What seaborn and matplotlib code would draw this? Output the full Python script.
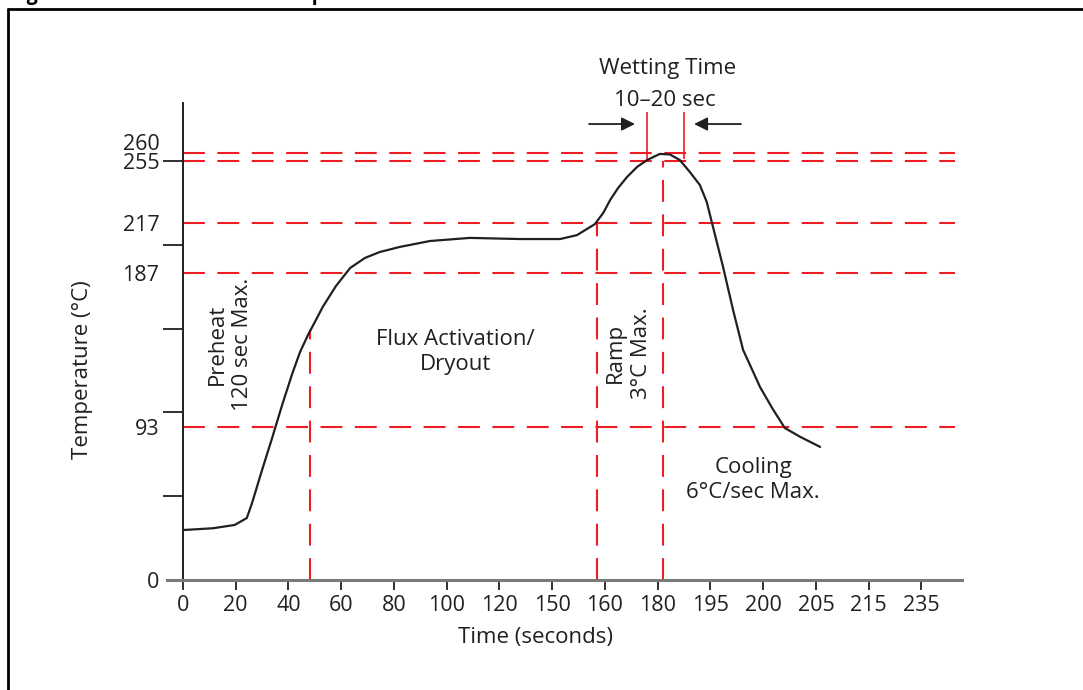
import matplotlib
matplotlib.use("Agg")
import matplotlib.pyplot as plt
from matplotlib.lines import Line2D
from matplotlib.transforms import ScaledTranslation
import seaborn as sns

# ── data (x in tick-slot units, y in °C) ──────────────────────────────────
x_tick_labels = ["0", "20", "40", "60", "80", "100", "120", "150",
                 "160", "180", "195", "200", "205", "215", "235"]
y_label_values = [0, 93, 187, 217, 255, 260]
y_tick_marks = [51, 102, 153, 204, 255]

curve_x = [0.00, 0.57, 0.98, 1.21, 1.31, 1.50, 1.69, 1.88, 2.07, 2.22,
           2.37, 2.52, 2.65, 2.90, 3.17, 3.45, 3.73, 4.11, 4.68, 5.44,
           6.39, 7.15, 7.47, 7.81, 7.97, 8.10, 8.25, 8.42, 8.61, 8.80,
           9.04, 9.23, 9.42, 9.61, 9.80, 9.93, 10.03, 10.24, 10.43, 10.62,
           10.75, 10.94, 11.17, 11.41, 11.71, 12.08]
curve_temp = [30.4, 31.5, 33.5, 37.7, 46.9, 67.0, 86.4, 106.5, 125.4, 138.8,
              149.1, 158.2, 166.2, 178.9, 189.9, 196.0, 199.6, 202.7, 206.3, 208.2,
              207.5, 207.5, 209.9, 216.6, 223.5, 231.3, 238.6, 245.3, 251.4, 255.6,
              259.3, 259.0, 255.6, 248.3, 240.4, 230.1, 217.3, 190.5, 164.3, 140.0,
              130.9, 117.5, 104.7, 92.5, 87.0, 81.0]

ref_temps = [260, 255, 217, 187, 93]
ref_x_end = 14.63
vline_x = [2.41, 7.85, 9.10]
vline_top = [152.2, 217, 255]
wetting_x = [8.80, 9.50]
wetting_temp = (256.5, 285.0)
arrow_temp = 277.5

RED = "#ee1c25"
INK = "#231f20"
DASH = (0, (10.5, 6))

sns.set_style("white")
plt.rcParams["font.family"] = ["Open Sans", "DejaVu Sans"]
plt.rcParams["text.color"] = INK

fig = plt.figure(figsize=(10.83, 6.90), dpi=100)
ax = fig.add_axes([167 / 1083, 110 / 690, 795 / 1083, 477 / 690])
ax.set_xlim(-0.303, 14.77)
ax.set_ylim(0, 290.3)

# reference lines
ax.hlines(ref_temps, 0, ref_x_end, colors=RED, lw=1.5, linestyles=[DASH])
ax.vlines(vline_x, 0, vline_top, colors=RED, lw=1.5, linestyles=[DASH])
ax.vlines(wetting_x, *wetting_temp, colors=RED, lw=1.2, clip_on=False)

# profile curve
sns.lineplot(x=curve_x, y=curve_temp, ax=ax, color=INK, lw=1.6,
             sort=False, estimator=None)

# wetting arrows
for x0, x1 in [(7.70, 8.57), (10.58, 9.69)]:
    ax.annotate("", xy=(x1, arrow_temp), xytext=(x0, arrow_temp),
                annotation_clip=False,
                arrowprops=dict(arrowstyle="-|>", color=INK, lw=1.3,
                                mutation_scale=20, shrinkA=0, shrinkB=0))

# annotations
fs = 16
tfs = 15.5
ax.text(9.196, 311.6, "Wetting Time", ha="center", va="center", fontsize=fs)
ax.text(9.14, 292.1, "10–20 sec", ha="center", va="center", fontsize=fs)
ax.text(0.89, 143.6, "Preheat\n120 sec Max.", ha="center", va="center",
        rotation=90, fontsize=fs, linespacing=1.3)
ax.text(5.16, 138.8, "Flux Activation/\nDryout", ha="center", va="center",
        fontsize=fs, linespacing=1.2)
ax.text(8.45, 138.2, "Ramp\n3°C Max.", ha="center", va="center",
        rotation=90, fontsize=fs, linespacing=1.3)
ax.text(10.81, 60.9, "Cooling\n6°C/sec Max.", ha="center", va="center",
        fontsize=fs, linespacing=1.2)

# axes styling
for s in ["top", "right"]:
    ax.spines[s].set_visible(False)
ax.spines["left"].set_position(("data", 0))
ax.spines["left"].set_color(INK)
ax.spines["left"].set_linewidth(1.4)
ax.spines["bottom"].set_color("#7a7a7a")
ax.spines["bottom"].set_linewidth(2.2)

ax.set_xticks(range(len(x_tick_labels)))
ax.set_xticklabels(x_tick_labels)
ax.tick_params(axis="x", direction="out", length=7, width=1.3,
               color=INK, pad=4, labelsize=tfs, labelcolor=INK, bottom=True)

ax.yaxis.remove_overlapping_locs = False
ax.set_yticks(y_tick_marks)
ax.set_yticklabels([])
ax.set_yticks(y_label_values, minor=True)
ax.set_yticklabels([str(v) for v in y_label_values], minor=True)
ax.tick_params(axis="y", which="major", direction="out", length=14.4,
               width=1.3, color=INK, left=True)
ax.tick_params(axis="y", which="minor", length=0, pad=17, labelsize=tfs,
               labelcolor=INK, left=True)
# nudge the 260 label up so it clears 255
lab260 = ax.yaxis.get_minor_ticks()[-1].label1
lab260.set_transform(lab260.get_transform()
                     + ScaledTranslation(0, 0.11, fig.dpi_scale_trans))

ax.set_xlabel("Time (seconds)", fontsize=fs, color=INK)
ax.xaxis.label.set_va("center")
ax.xaxis.set_label_coords(0.463, -0.1195)
ax.set_ylabel("Temperature (°C)", fontsize=fs, color=INK)
ax.yaxis.label.set_va("center")
ax.yaxis.set_label_coords(-0.1057, 0.440)

# cropped figure title and frame
fig.text(10 / 1083, 1.0, "Figure 4. Pb-free Solder Reflow profile",
         ha="left", va="baseline", fontsize=14, fontweight="bold", color="black")
fig.add_artist(Line2D([7.8 / 1083, 1.0], [1 - 8.7 / 690, 1 - 8.7 / 690],
                      color="black", lw=2.0, transform=fig.transFigure))
fig.add_artist(Line2D([7.8 / 1083, 7.8 / 1083], [1 - 8.7 / 690, 0.0],
                      color="black", lw=2.0, transform=fig.transFigure))

fig.savefig("out.png", dpi=100, facecolor="white")
